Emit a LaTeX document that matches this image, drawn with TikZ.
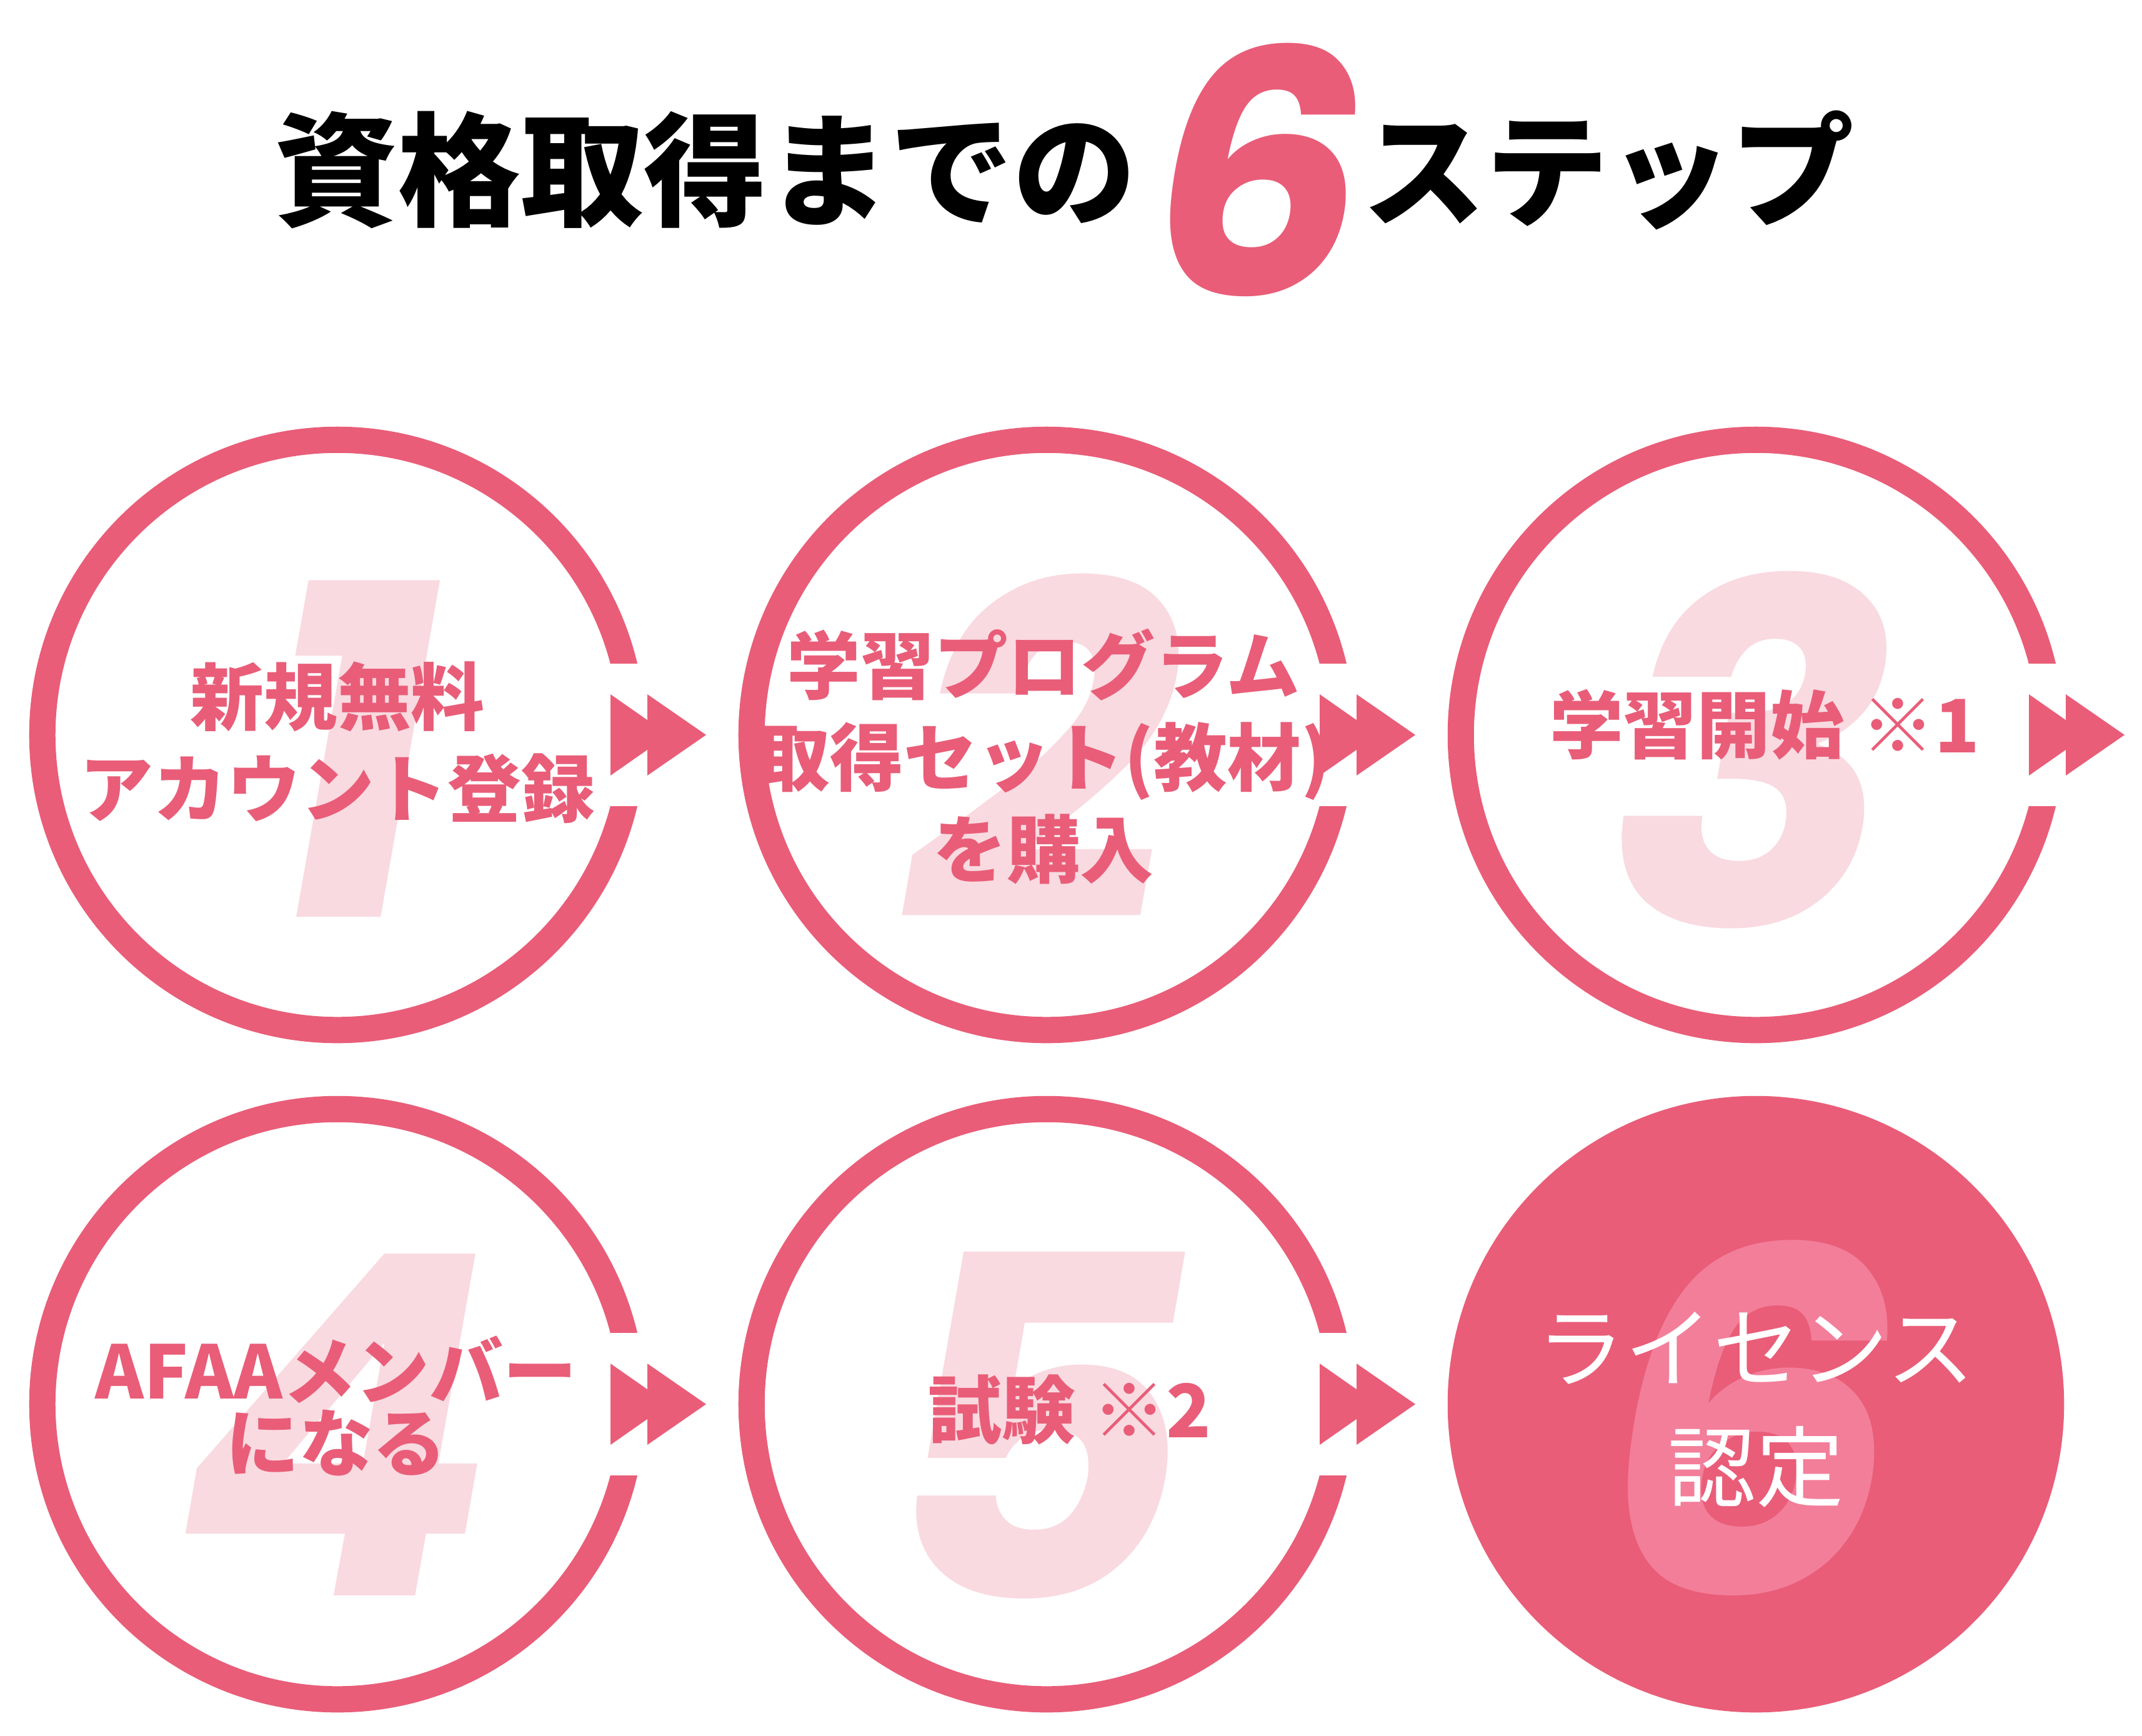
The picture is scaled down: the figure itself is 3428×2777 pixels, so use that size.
\documentclass[tikz,border=0pt]{standalone}
\usepackage{fontspec}
\setmainfont{Noto Sans CJK JP}
\newfontfamily\numfont{Poppins}
\definecolor{accent}{RGB}{233,93,120}
\definecolor{pale}{RGB}{249,218,224}
\definecolor{rose}{RGB}{243,126,154}

\tikzset{
  ring/.style={circle, draw=accent, line width=0.42cm, minimum size=9.44cm, inner sep=0pt},
  stepnum/.style={font=\numfont\bfseries\itshape\fontsize{216}{216}\selectfont, text=pale, inner sep=0pt},
  steptext/.style={font=\bfseries\fontsize{33.5}{41.8}\selectfont, text=accent, align=center, inner sep=0pt},
}

\begin{document}
\begin{tikzpicture}[x=0.01cm, y=-0.01cm]
\useasboundingbox (0,0) rectangle (3428,2777);
% タイトル
\node[font=\bfseries\fontsize{56}{56}\selectfont, inner sep=0pt] (title) at (1129,272) {資格取得までの};
\node[font=\numfont\bfseries\itshape\fontsize{154}{154}\selectfont, text=accent, inner sep=0pt] (six) at (2012,272) {6};
\node[font=\bfseries\fontsize{56}{56}\selectfont, inner sep=0pt] (steps) at (2574,272) {ステップ};

% ステップの円
\node[ring] (c1) at (540,1176) {};
\node[ring] (c2) at (1675,1176) {};
\node[ring] (c3) at (2810,1176) {};
\node[ring] (c4) at (540,2247) {};
\node[ring] (c5) at (1675,2247) {};
\node[circle, fill=accent, minimum size=9.86cm, inner sep=0pt] (c6) at (2810,2247) {};

% 矢印
\foreach \c in {c1,c2,c3,c4,c5}{
  \fill[white] ([shift={(425,-114)}]\c.center) rectangle ([shift={(505,114)}]\c.center);
  \fill[accent] ([shift={(437,-65)}]\c.center) -- ([shift={(530,0)}]\c.center) -- ([shift={(437,65)}]\c.center) -- cycle;
  \fill[accent] ([shift={(496,-65)}]\c.center) -- ([shift={(590,0)}]\c.center) -- ([shift={(496,65)}]\c.center) -- cycle;
}

% 背景の数字
\node[stepnum] (n1) at (560,1198) {1};
\node[stepnum] (n2) at (1668,1195) {2};
\node[stepnum] (n3) at (2804,1200) {3};
\node[stepnum] (n4) at (538,2280) {4};
\node[stepnum] (n5) at (1660,2281) {5};
\node[stepnum, text=rose] (n6) at (2800,2269) {6};

% 各ステップの文字
\node[steptext] (t1) at (540,1188) {新規無料\\アカウント登録};
\node[steptext] (t2) at (1670,1211) {学習プログラム\\取得セット(教材)\\を購入};
\node[steptext] (t3) at (2824,1160) {学習開始 {\mdseries ※}1};
\node[steptext, font=\bfseries\fontsize{33.5}{32.7}\selectfont] (t4) at (538,2250) {AFAAメンバー\\になる};
\node[steptext] (t5) at (1712,2256) {試験 {\mdseries ※}2};
\node[font=\fontsize{40}{54.3}\selectfont, text=white, align=center, inner sep=0pt] (t6) at (2810,2256) {ライセンス\\認定};
\end{tikzpicture}
\end{document}
